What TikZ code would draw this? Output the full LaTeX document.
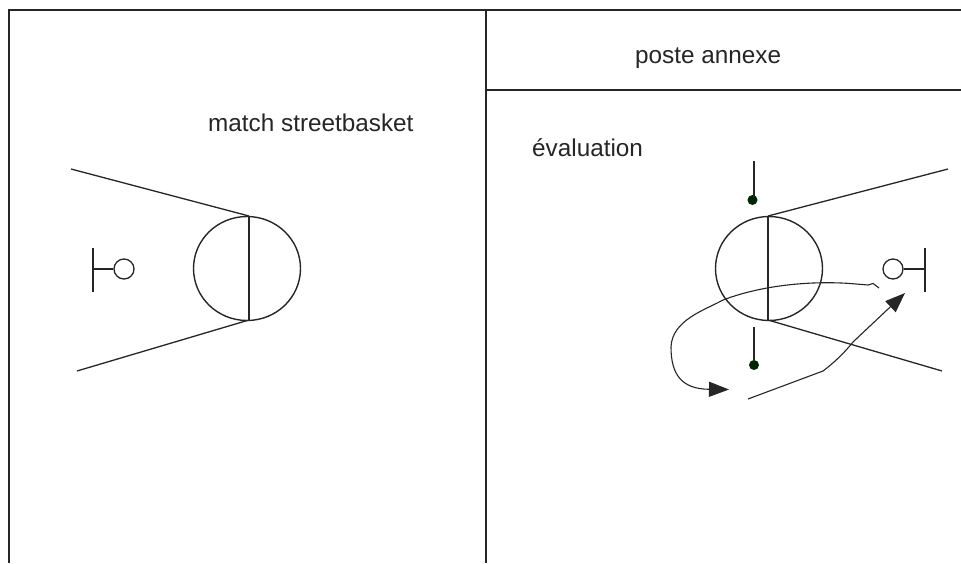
\documentclass[tikz,border=0pt]{standalone}
\usepackage{fontspec}
\setmainfont{Liberation Sans}
\usetikzlibrary{arrows.meta,shapes.geometric}
\tikzset{
  court/.style={line width=1.3pt,black!85},
  thin line/.style={line width=1.3pt,black!85},
  flow/.style={line width=1.1pt,black!85},
  label text/.style={inner sep=0pt,anchor=base west,font=\fontsize{24.3}{28}\selectfont,black!85},
  ring/.style={draw,line width=1.3pt,black!85,circle,minimum size=20pt,inner sep=0pt},
  bigring/.style={draw,line width=1.4pt,black!85,ellipse,minimum width=107pt,minimum height=104pt,inner sep=0pt},
  dotnode/.style={circle,fill=black!85!green,minimum size=10pt,inner sep=0pt},
  head/.style={-{Triangle[length=20pt,width=15pt]}}
}
\begin{document}
\begin{tikzpicture}[x=1pt,y=-1pt]
\useasboundingbox (0,0) rectangle (961,563);
\fill[white] (0,0) rectangle (961,563);
% frame
\coordinate (bl) at (9,563);
\coordinate (tl) at (9,10);
\coordinate (tr) at (961,10);
\coordinate (dt) at (486,10);
\coordinate (db) at (486,563);
\coordinate (hl) at (486,90);
\coordinate (hr) at (961,90);
\draw[court] (bl) -- (tl) -- (tr);
\draw[court] (dt) -- (db);
\draw[court] (hl) -- (hr);
% labels
\node[label text] (t1) at (635,63) {poste annexe};
\node[label text] (t2) at (208,131.5) {match streetbasket};
\node[label text] (t3) at (532,156) {évaluation};
% left court
\node[bigring] (lc) at (247,268.5) {};
\coordinate (lct) at (249,216);
\coordinate (lcb) at (249,320);
\draw[thin line] (lct) -- (lcb);
\coordinate (la) at (71,169);
\coordinate (lb) at (77,371);
\draw[thin line] (la) -- (lct);
\draw[thin line] (lb) -- (lcb);
\node[ring] (lh) at (124,269) {};
\coordinate (lbt) at (93,248);
\coordinate (lbb) at (93,292);
\draw[thin line] (lbt) -- (lbb);
\draw[thin line] (lh.west) -- (lh.west -| lbt);
% right court
\node[bigring] (rc) at (769,268.5) {};
\coordinate (rct) at (768,216);
\coordinate (rcb) at (768,320);
\draw[thin line] (rct) -- (rcb);
\coordinate (ra) at (948,169);
\coordinate (rb) at (942,371);
\draw[thin line] (ra) -- (rct);
\draw[thin line] (rb) -- (rcb);
\node[ring] (rh) at (893,269) {};
\coordinate (rbt) at (925,248);
\coordinate (rbb) at (925,292);
\draw[thin line] (rbt) -- (rbb);
\draw[thin line] (rh.east) -- (rh.east -| rbt);
% players
\coordinate (p1) at (754,161);
\node[dotnode] (d1) at (752.5,200) {};
\draw[thin line] (p1) -- (754,197);
\coordinate (p2) at (754,327);
\node[dotnode] (d2) at (754,365) {};
\draw[thin line] (p2) -- (d2);
% movements
\coordinate (m1) at (879,288);
\coordinate (m2) at (729,389.5);
\draw[flow,head] (m1) -- (873,283.5) -- (868,285) -- (850,283.5)
  .. controls (815,281) and (765,284) .. (723,300)
  .. controls (705,310) and (672,320) .. (671,347)
  .. controls (671,375) and (682,389) .. (m2);
\coordinate (m3) at (748,399);
\coordinate (m4) at (905,293);
\draw[flow,head] (m3) -- (823,371)
  .. controls (835,362) and (845,352) .. (853,342)
  -- (m4);
\end{tikzpicture}
\end{document}
